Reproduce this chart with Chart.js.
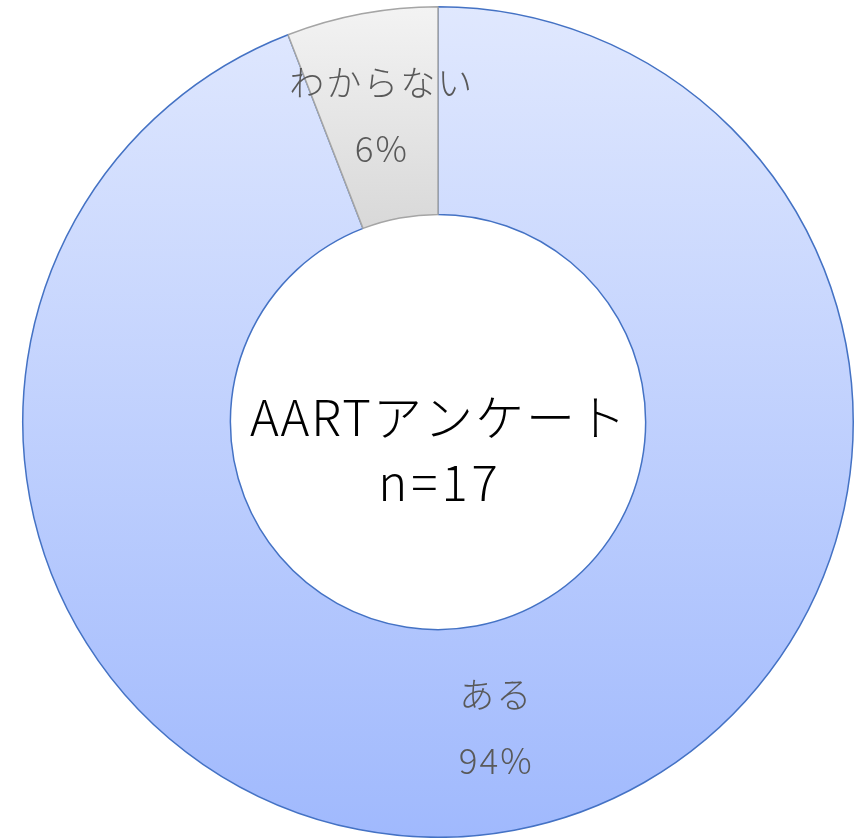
<!DOCTYPE html>
<html>
<head>
<meta charset="utf-8">
<script src="https://cdn.jsdelivr.net/npm/chart.js@4"></script>
<style>
  html, body { margin: 0; padding: 0; background: #fff; }
  #wrap { width: 856px; height: 838px; }
</style>
</head>
<body>
<div id="wrap"><canvas id="chart"></canvas></div>
<script>
// データ
const categories = ['ある', 'わからない']
const counts = [16, 1]
const centerLines = ['AARTアンケート', 'n=17']

const fontJP = '"Noto Sans CJK JP", "Noto Sans", sans-serif'
const total = counts.reduce((a, b) => a + b, 0)

// 縦グラデーション（チャート領域基準）
function sliceFill(ctx) {
  const area = ctx.chart.chartArea
  const blue = ctx.dataIndex === 0
  if (!area) return blue ? '#c0d0fd' : '#e5e5e5'
  const h = area.bottom - area.top
  const g = ctx.chart.ctx.createLinearGradient(0, area.top, 0, blue ? area.bottom : area.top + h * 0.27)
  if (blue) {
    g.addColorStop(0, '#e0e8fe')
    g.addColorStop(1, '#a0b9fd')
  } else {
    g.addColorStop(0, '#f3f3f3')
    g.addColorStop(1, '#d8d8d8')
  }
  return g
}

// ラベル（項目名＋％）
const sliceLabels = {
  id: 'sliceLabels',
  afterDatasetsDraw(chart) {
    const c = chart.ctx
    const arcs = chart.getDatasetMeta(0).data
    c.save()
    c.fillStyle = '#595959'
    c.textAlign = 'center'
    c.textBaseline = 'middle'
    c.font = '300 35px ' + fontJP
    c.letterSpacing = '2px'
    arcs.forEach((arc, i) => {
      const p = arc.tooltipPosition()
      const pct = Math.round(counts[i] / total * 100) + '%'
      c.fillText(categories[i], p.x + 1, p.y - 33)
      c.fillText(pct, p.x + 1, p.y + 33)
    })
    c.restore()
  }
}

// 中央のテキスト
const centerText = {
  id: 'centerText',
  afterDraw(chart) {
    const arc = chart.getDatasetMeta(0).data[0]
    if (!arc) return
    const c = chart.ctx
    c.save()
    c.fillStyle = '#000'
    c.textAlign = 'center'
    c.textBaseline = 'middle'
    c.font = '300 49px ' + fontJP
    c.letterSpacing = '2px'
    c.fillText(centerLines[0], arc.x + 1, arc.y - 5)
    c.letterSpacing = '4px'
    c.fillText(centerLines[1], arc.x + 2, arc.y + 60)
    c.restore()
  }
}

new Chart(document.getElementById('chart'), {
  type: 'doughnut',
  data: {
    labels: categories,
    datasets: [{
      data: counts,
      backgroundColor: sliceFill,
      borderColor: ['#4472c4', '#a5a5a5'],
      borderWidth: 1.5
    }]
  },
  options: {
    responsive: true,
    maintainAspectRatio: false,
    animation: false,
    cutout: '50%',
    layout: { padding: { left: 20, right: 0, top: 6, bottom: 0 } },
    plugins: {
      legend: { display: false },
      tooltip: { enabled: false }
    }
  },
  plugins: [sliceLabels, centerText]
})
</script>
</body>
</html>
